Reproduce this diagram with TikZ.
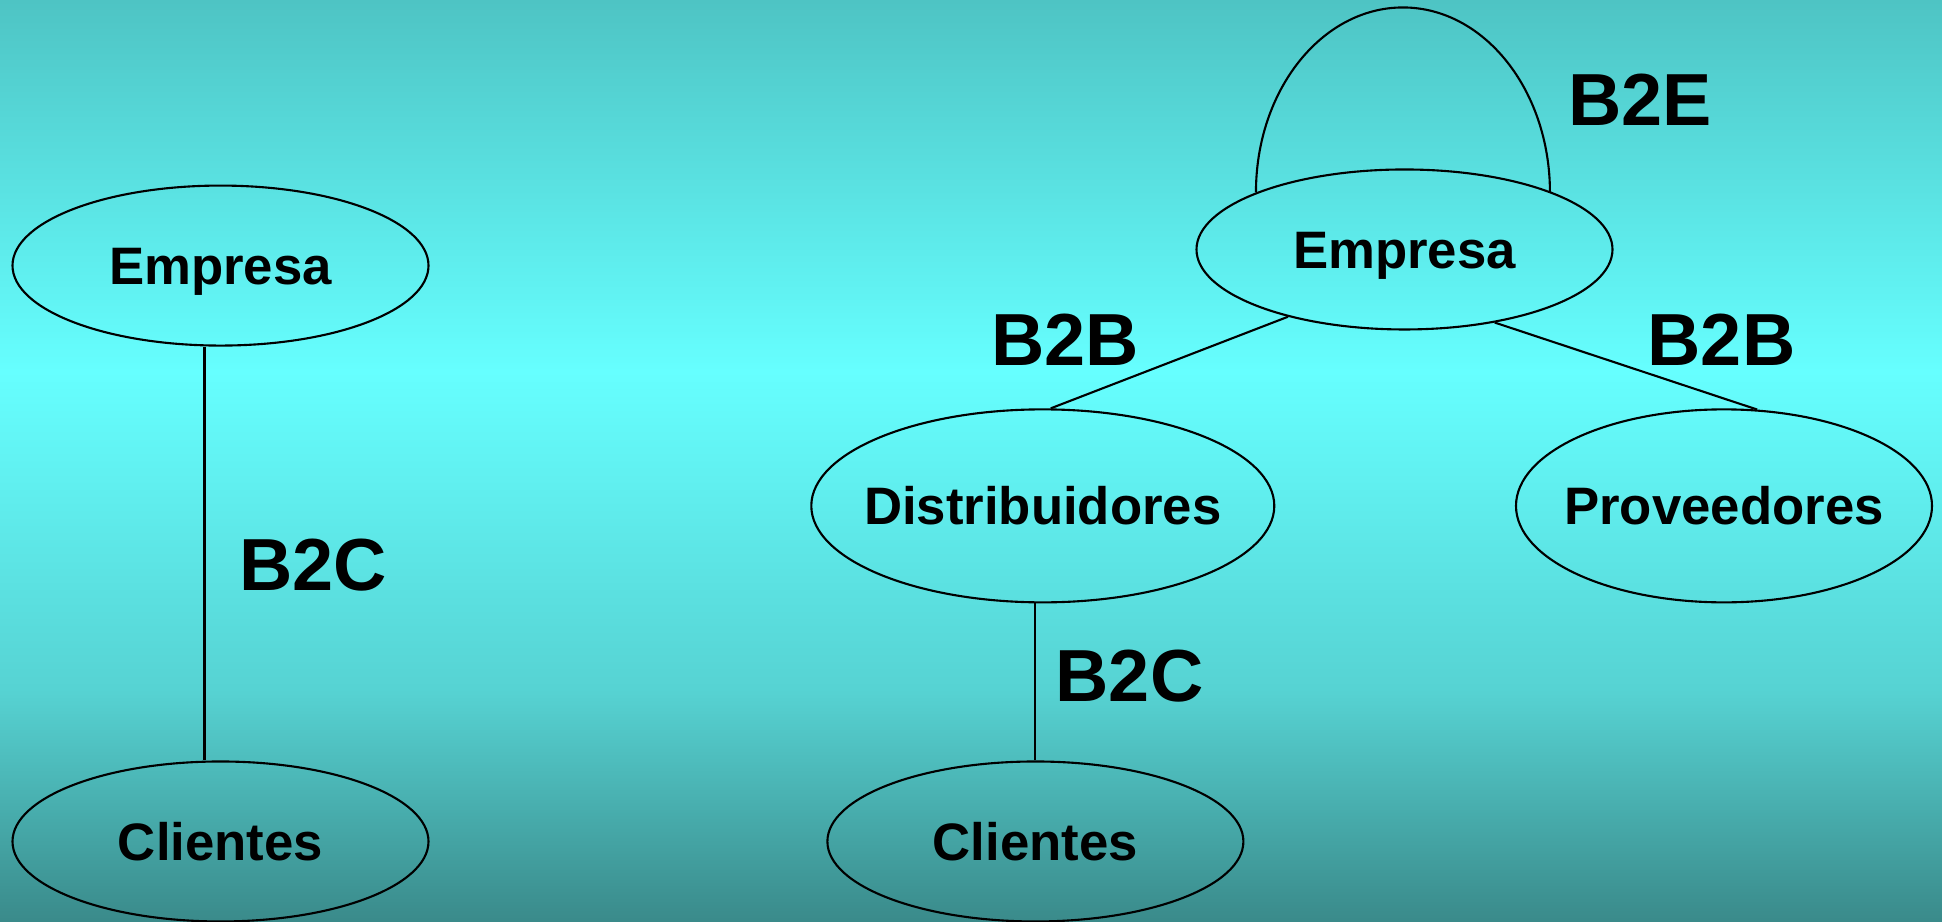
\documentclass[tikz,border=0pt]{standalone}
\usepackage{fontspec}
\setmainfont{Liberation Sans}
\usetikzlibrary{positioning, shapes.geometric}

\definecolor{bgtop}{RGB}{78,196,196}
\definecolor{bgmid}{RGB}{102,255,255}
\definecolor{bglow}{RGB}{86,210,210}
\definecolor{bgbot}{RGB}{58,138,138}

\begin{document}
\begin{tikzpicture}[
    entity/.style={ellipse, draw=black, line width=0.6pt, minimum width=4.16cm,
                   minimum height=1.6cm, inner xsep=-0.2cm, inner ysep=0pt,
                   font=\fontsize{15}{18}\selectfont\bfseries,
                   text height=10.7pt, text depth=0pt},
    tall/.style={minimum height=1.93cm},
    link/.style={line width=0.6pt},
    tag/.style={font=\fontsize{21}{25}\selectfont\bfseries, inner sep=0pt,
                text height=15pt, text depth=0pt}
]

    % Background
    \useasboundingbox (0,0) rectangle (19.42,9.22);
    \shade[top color=bgtop, bottom color=bgmid] (0,5.5) rectangle (19.42,9.22);
    \shade[top color=bgmid, bottom color=bglow] (0,2.28) rectangle (19.42,5.51);
    \shade[top color=bglow, bottom color=bgbot] (0,0) rectangle (19.42,2.29);

    % Left: B2C
    \node[entity] (emp1) at (2.205,6.564) {Empresa};
    \node[entity] (cli1) at (2.205,0.805) {Clientes};
    \node[tag] (b2c1) at (3.133,3.579) {B2C};

    % Right: Empresa
    \node[entity] (emp2) at (14.045,6.725) {Empresa};
    \node[tag] (b2e) at (16.398,8.224) {B2E};

    % Right: second row
    \node[entity, tall, minimum width=4.63cm] (dist) at (10.428,4.161) {Distribuidores};
    \node[entity, tall] (prov) at (17.240,4.161) {Proveedores};
    \node[tag] (b2b1) at (10.651,5.833) {B2B};
    \node[tag] (b2b2) at (17.215,5.833) {B2B};

    % Right: Clientes
    \node[entity] (cli2) at (10.354,0.805) {Clientes};
    \node[tag] (b2c2) at (11.295,2.465) {B2C};

    % Links
    \draw[link] ([xshift=-0.16cm]emp1.south) -- ([xshift=-0.16cm]cli1.north);
    \draw[link] (emp2.159) arc[start angle=180, end angle=0, x radius=1.47cm, y radius=1.85cm];
    \draw[link] (emp2.210) -- ([xshift=0.08cm]dist.north);
    \draw[link] (emp2.321) -- (prov.71);
    \draw[link] (dist.south -| cli2.north) -- (cli2.north);

\end{tikzpicture}
\end{document}
